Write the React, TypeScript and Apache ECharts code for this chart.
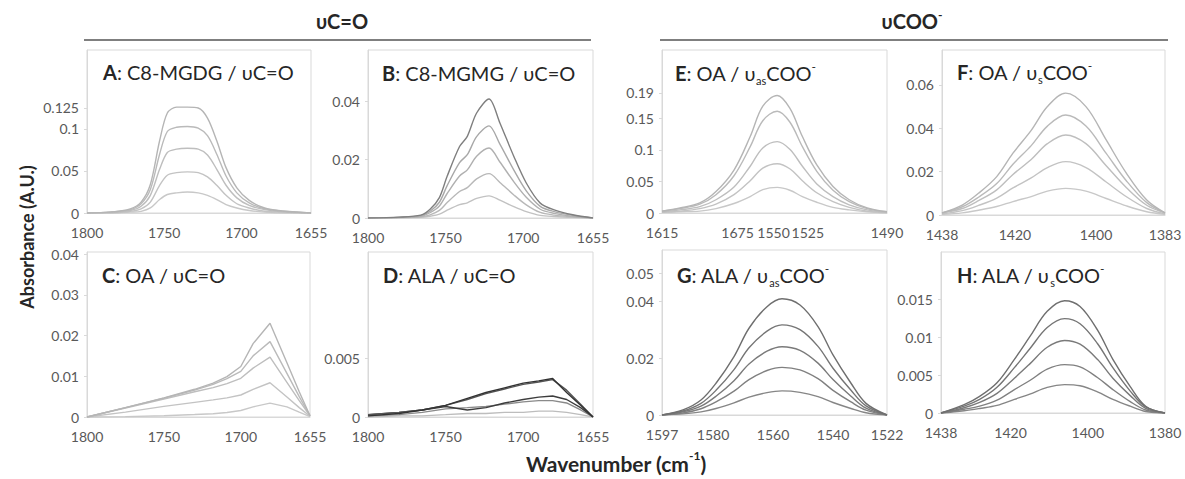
import { useEffect, useRef } from "react";
import * as echarts from "echarts";

// ---------- A: C8-MGDG / vC=O ----------
const aWavenumber = [1800, 1785, 1772, 1765, 1759, 1753, 1748, 1742, 1735, 1728, 1722, 1716, 1710, 1703, 1695, 1685, 1672, 1655];
const aAbsorbance = [
  [0, 0.001, 0.005, 0.013, 0.034, 0.086, 0.119, 0.126, 0.126, 0.125, 0.113, 0.086, 0.054, 0.030, 0.015, 0.006, 0.002, 0],
  [0, 0.001, 0.004, 0.011, 0.028, 0.070, 0.097, 0.102, 0.103, 0.101, 0.092, 0.070, 0.044, 0.024, 0.012, 0.005, 0.002, 0],
  [0, 0.001, 0.003, 0.008, 0.021, 0.052, 0.072, 0.076, 0.077, 0.076, 0.069, 0.052, 0.033, 0.018, 0.009, 0.004, 0.001, 0],
  [0, 0.000, 0.002, 0.005, 0.013, 0.033, 0.045, 0.048, 0.049, 0.048, 0.043, 0.033, 0.021, 0.011, 0.006, 0.002, 0.001, 0],
  [0, 0.000, 0.001, 0.002, 0.006, 0.016, 0.022, 0.024, 0.025, 0.024, 0.021, 0.016, 0.010, 0.006, 0.003, 0.001, 0.000, 0],
];
const aXTicks = [1800, 1750, 1700, 1655];
const aXLabels = ["1800", "1750", "1700", "1655"];
const aYTicks = [0, 0.05, 0.1, 0.125];

// ---------- B: C8-MGMG / vC=O ----------
const bWavenumber = [1800, 1780, 1766, 1760, 1754, 1749, 1741, 1736, 1730, 1722, 1715, 1706, 1698, 1689, 1680, 1668, 1655];
const bAbsorbance = [
  [0, 0.0003, 0.001, 0.003, 0.007, 0.0143, 0.0245, 0.028, 0.036, 0.0408, 0.0326, 0.0211, 0.012, 0.0051, 0.0028, 0.0011, 0],
  [0, 0.0002, 0.0008, 0.0023, 0.0054, 0.0111, 0.019, 0.0217, 0.0279, 0.0316, 0.0253, 0.0164, 0.0093, 0.004, 0.0022, 0.0009, 0],
  [0, 0.0002, 0.0006, 0.0018, 0.0041, 0.0084, 0.0144, 0.0165, 0.0212, 0.024, 0.0192, 0.0124, 0.0071, 0.003, 0.0016, 0.0006, 0],
  [0, 0.0001, 0.0004, 0.0011, 0.0026, 0.0053, 0.0091, 0.0104, 0.0134, 0.0152, 0.0122, 0.0079, 0.0045, 0.0019, 0.001, 0.0004, 0],
  [0, 0.0001, 0.0002, 0.0006, 0.0013, 0.0027, 0.0046, 0.0052, 0.0067, 0.0076, 0.0061, 0.0039, 0.0022, 0.0009, 0.0005, 0.0002, 0],
];
const bXTicks = [1800, 1750, 1700, 1655];
const bXLabels = ["1800", "1750", "1700", "1655"];
const bYTicks = [0, 0.02, 0.04];

// ---------- C: OA / vC=O ----------
const cWavenumber = [1800, 1775, 1750, 1730, 1718, 1709, 1700, 1692, 1681, 1670, 1662, 1655];
const cAbsorbance = [
  [0, 0.0023, 0.0047, 0.0068, 0.0083, 0.0099, 0.0124, 0.018, 0.023, 0.0133, 0.0062, 0.0003],
  [0, 0.0023, 0.0046, 0.0066, 0.008, 0.0094, 0.0112, 0.015, 0.0185, 0.0107, 0.005, 0.0003],
  [0, 0.0022, 0.0044, 0.0062, 0.0072, 0.0082, 0.0095, 0.012, 0.0147, 0.0085, 0.004, 0.0003],
  [0, 0.0012, 0.0026, 0.0036, 0.0042, 0.0047, 0.0054, 0.0068, 0.0084, 0.0049, 0.0023, 0.0002],
  [0, 0.0001, 0.0003, 0.0006, 0.0008, 0.0011, 0.0016, 0.0025, 0.0034, 0.0025, 0.0012, 0.0001],
];
const cXTicks = [1800, 1750, 1700, 1655];
const cXLabels = ["1800", "1750", "1700", "1655"];
const cYTicks = [0, 0.01, 0.02, 0.03, 0.04];

// ---------- D: ALA / vC=O ----------
const dWavenumber = [1800, 1780, 1765, 1750, 1736, 1724, 1712, 1700, 1690, 1681, 1672, 1663, 1655];
const dAbsorbance = [
  [0.0001, 0.0003, 0.0006, 0.001, 0.0016, 0.0021, 0.0025, 0.0029, 0.0031, 0.0033, 0.0021, 0.001, 0],
  [0.0002, 0.0004, 0.0006, 0.001, 0.0015, 0.002, 0.0024, 0.0028, 0.003, 0.0032, 0.0023, 0.0011, 0],
  [0.0002, 0.0004, 0.0006, 0.0009, 0.0006, 0.0008, 0.0012, 0.0015, 0.0017, 0.0018, 0.0015, 0.0008, 0],
  [0.0001, 0.0002, 0.0004, 0.0007, 0.0008, 0.0009, 0.0011, 0.0013, 0.0014, 0.0014, 0.0012, 0.0006, 0],
  [0, 0.0001, 0.0001, 0.0002, 0.0003, 0.0003, 0.0004, 0.0004, 0.0005, 0.0005, 0.0004, 0.0002, 0],
];
const dXTicks = [1800, 1750, 1700, 1655];
const dXLabels = ["1800", "1750", "1700", "1655"];
const dYTicks = [0, 0.005];

// ---------- E: OA / vasCOO- ----------
const eWavenumber = [1615, 1605, 1594, 1585, 1575, 1566, 1559, 1551, 1544, 1537, 1529, 1520, 1511, 1501, 1490];
const eAbsorbance = [
  [0.003, 0.008, 0.016, 0.034, 0.068, 0.121, 0.169, 0.186, 0.166, 0.121, 0.076, 0.042, 0.021, 0.008, 0.002],
  [0.003, 0.007, 0.014, 0.029, 0.059, 0.105, 0.146, 0.161, 0.144, 0.105, 0.066, 0.036, 0.018, 0.007, 0.002],
  [0.002, 0.005, 0.01, 0.021, 0.041, 0.074, 0.103, 0.113, 0.101, 0.074, 0.046, 0.026, 0.013, 0.005, 0.001],
  [0.001, 0.003, 0.007, 0.014, 0.029, 0.051, 0.071, 0.078, 0.07, 0.051, 0.032, 0.018, 0.009, 0.003, 0.001],
  [0.001, 0.002, 0.003, 0.007, 0.015, 0.026, 0.037, 0.0405, 0.036, 0.026, 0.017, 0.009, 0.005, 0.002, 0],
];
const eXTicks = [1615, 1573, 1553, 1534, 1490];
const eXLabels = ["1615", "1675", "1550", "1525", "1490"];
const eYTicks = [0, 0.05, 0.1, 0.15, 0.19];

// ---------- F: OA / vsCOO- ----------
const fWavenumber = [1438, 1433, 1429, 1424.5, 1420.5, 1416, 1412, 1407.5, 1402.5, 1397.5, 1392.5, 1387.5, 1383];
const fAbsorbance = [
  [0.001, 0.0046, 0.01, 0.0177, 0.0285, 0.039, 0.05, 0.0562, 0.05, 0.0346, 0.0192, 0.0069, 0.001],
  [0.001, 0.0038, 0.0082, 0.0145, 0.0234, 0.032, 0.041, 0.0461, 0.041, 0.0284, 0.0157, 0.0057, 0.001],
  [0.001, 0.003, 0.0066, 0.0116, 0.0187, 0.0256, 0.0329, 0.0369, 0.0329, 0.0227, 0.0126, 0.0045, 0.001],
  [0.0005, 0.002, 0.0044, 0.0078, 0.0125, 0.0171, 0.0219, 0.0246, 0.0219, 0.0152, 0.0084, 0.003, 0.0005],
  [0.0003, 0.001, 0.0022, 0.0039, 0.0062, 0.0085, 0.011, 0.0123, 0.011, 0.0076, 0.0042, 0.0015, 0.0003],
];
const fXTicks = [1438, 1420, 1400, 1383];
const fXLabels = ["1438", "1420", "1400", "1383"];
const fYTicks = [0, 0.02, 0.04, 0.06];

// ---------- G: ALA / vasCOO- ----------
const gWavenumber = [1597, 1590, 1584, 1579, 1573, 1568, 1562, 1557, 1551, 1545, 1540, 1534, 1529, 1522];
const gAbsorbance = [
  [0, 0.0018, 0.0053, 0.0112, 0.0206, 0.0306, 0.0382, 0.041, 0.0388, 0.0312, 0.0212, 0.0112, 0.0041, 0],
  [0, 0.0014, 0.0041, 0.0087, 0.016, 0.0237, 0.0296, 0.0318, 0.0301, 0.0242, 0.0165, 0.0087, 0.0032, 0],
  [0, 0.0011, 0.0031, 0.0066, 0.0121, 0.018, 0.0225, 0.0241, 0.0228, 0.0183, 0.0125, 0.0066, 0.0024, 0],
  [0, 0.0007, 0.0022, 0.0046, 0.0084, 0.0125, 0.0157, 0.0168, 0.0159, 0.0128, 0.0087, 0.0046, 0.0017, 0],
  [0, 0.0004, 0.0011, 0.0023, 0.0043, 0.0063, 0.0079, 0.0085, 0.008, 0.0065, 0.0044, 0.0023, 0.0008, 0],
];
const gXTicks = [1597, 1580, 1560, 1540, 1522];
const gXLabels = ["1597", "1580", "1560", "1540", "1522"];
const gYTicks = [0, 0.02, 0.04, 0.05];

// ---------- H: ALA / vsCOO- ----------
const hWavenumber = [1438, 1432, 1428, 1423.5, 1419, 1415, 1410.5, 1406, 1402, 1397.5, 1393.5, 1389, 1385, 1380];
const hAbsorbance = [
  [0, 0.0011, 0.0022, 0.004, 0.0071, 0.0101, 0.01345, 0.01486, 0.0141, 0.011, 0.0071, 0.0035, 0.0009, 0],
  [0, 0.0009, 0.0018, 0.0034, 0.006, 0.0085, 0.0113, 0.01248, 0.0118, 0.0092, 0.006, 0.0029, 0.0008, 0],
  [0, 0.0007, 0.0014, 0.0026, 0.0046, 0.0065, 0.0087, 0.0096, 0.0091, 0.0071, 0.0046, 0.0023, 0.0006, 0],
  [0, 0.0005, 0.0009, 0.0017, 0.0031, 0.0043, 0.0058, 0.0064, 0.0061, 0.0047, 0.0031, 0.0015, 0.0004, 0],
  [0, 0.0003, 0.0006, 0.001, 0.0018, 0.0025, 0.0034, 0.00375, 0.0036, 0.0028, 0.0018, 0.0009, 0.0002, 0],
];
const hXTicks = [1438, 1420, 1400, 1380];
const hXLabels = ["1438", "1420", "1400", "1380"];
const hYTicks = [0, 0.005, 0.01, 0.015];

const FONT = "Lato, 'Open Sans', sans-serif";
const TEXT = "#262626";
const TICK = "#595959";
const FRAME = "#d9d9d9";

const light = ["#b5b5b5", "#bababa", "#bebebe", "#c3c3c3", "#c8c8c8"];
const mid = ["#6f6f6f", "#757575", "#7a7a7a", "#808080", "#868686"];
const bCols = ["#7f7f7f", "#a8a8a8", "#b0b0b0", "#b8b8b8", "#c2c2c2"];
const dCols = ["#333333", "#555555", "#3d3d3d", "#8a8a8a", "#bdbdbd"];

const panels = [
  { title: "{b|A}{n|: C8-MGDG / υC=O}", tx: 103, ty: 72, grid: [87, 50, 224, 163], xMin: 1655, xMax: 1800, yMax: 0.194, xs: aWavenumber, ys: aAbsorbance, xTicks: aXTicks, xLabels: aXLabels, yTicks: aYTicks, colors: light, smooth: 0.3 },
  { title: "{b|B}{n|: C8-MGMG / υC=O}", tx: 382, ty: 73, grid: [368, 50, 225, 168], xMin: 1655, xMax: 1800, yMax: 0.0576, xs: bWavenumber, ys: bAbsorbance, xTicks: bXTicks, xLabels: bXLabels, yTicks: bYTicks, colors: bCols, smooth: 0.3 },
  { title: "{b|E}{n|: OA / υ}{sub|as}{n|COO}{sup|-}", tx: 675, ty: 73, grid: [662, 50, 225, 163], xMin: 1490, xMax: 1615, yMax: 0.258, xs: eWavenumber, ys: eAbsorbance, xTicks: eXTicks, xLabels: eXLabels, yTicks: eYTicks, colors: light, smooth: 0.35 },
  { title: "{b|F}{n|: OA / υ}{sub|s}{n|COO}{sup|-}", tx: 957, ty: 72, grid: [942, 50, 223, 165], xMin: 1383, xMax: 1438, yMax: 0.0761, xs: fWavenumber, ys: fAbsorbance, xTicks: fXTicks, xLabels: fXLabels, yTicks: fYTicks, colors: light, smooth: 0.35 },
  { title: "{b|C}{n|: OA / υC=O}", tx: 102, ty: 275, grid: [87, 252, 223, 165], xMin: 1655, xMax: 1800, yMax: 0.0405, xs: cWavenumber, ys: cAbsorbance, xTicks: cXTicks, xLabels: cXLabels, yTicks: cYTicks, colors: light, smooth: false },
  { title: "{b|D}{n|: ALA / υC=O}", tx: 383, ty: 275, grid: [368, 252, 225, 165], xMin: 1655, xMax: 1800, yMax: 0.01414, xs: dWavenumber, ys: dAbsorbance, xTicks: dXTicks, xLabels: dXLabels, yTicks: dYTicks, colors: dCols, smooth: false },
  { title: "{b|G}{n|: ALA / υ}{sub|as}{n|COO}{sup|-}", tx: 677, ty: 275, grid: [662, 250, 225, 165], xMin: 1522, xMax: 1597, yMax: 0.0582, xs: gWavenumber, ys: gAbsorbance, xTicks: gXTicks, xLabels: gXLabels, yTicks: gYTicks, colors: mid, smooth: 0.35 },
  { title: "{b|H}{n|: ALA / υ}{sub|s}{n|COO}{sup|-}", tx: 957, ty: 275, grid: [941, 252, 224, 161], xMin: 1380, xMax: 1438, yMax: 0.0213, xs: hWavenumber, ys: hAbsorbance, xTicks: hXTicks, xLabels: hXLabels, yTicks: hYTicks, colors: mid, smooth: 0.35 },
];

const titleRich = {
  b: { fontFamily: FONT, fontSize: 20, fontWeight: "bold", fill: TEXT, color: TEXT, lineHeight: 26 },
  n: { fontFamily: FONT, fontSize: 20, fill: TEXT, color: TEXT, lineHeight: 26 },
  sub: { fontFamily: FONT, fontSize: 11, fill: TEXT, color: TEXT, lineHeight: 12, verticalAlign: "bottom" },
  sup: { fontFamily: FONT, fontSize: 12, fill: TEXT, color: TEXT, lineHeight: 12, verticalAlign: "top" },
  bb: { fontFamily: FONT, fontSize: 20, fontWeight: "bold", fill: TEXT, color: TEXT, lineHeight: 26 },
  xb: { fontFamily: FONT, fontSize: 21, fontWeight: "bold", fill: TEXT, color: TEXT, lineHeight: 28 },
  bsup: { fontFamily: FONT, fontSize: 12, fontWeight: "bold", fill: TEXT, color: TEXT, lineHeight: 12, verticalAlign: "top" },
};

export default function App() {
  const ref = useRef<HTMLDivElement>(null);
  useEffect(() => {
    if (!ref.current) return;
    const chart = echarts.init(ref.current, undefined, { renderer: "svg" });

    const grids = panels.map((p) => ({
      left: p.grid[0],
      top: p.grid[1],
      width: p.grid[2],
      height: p.grid[3],
      show: true,
      borderColor: FRAME,
      borderWidth: 1,
      backgroundColor: "transparent",
      containLabel: false,
    }));

    const xAxes = panels.map((p, i) => ({
      gridIndex: i,
      type: "value",
      min: p.xMin,
      max: p.xMax,
      inverse: true,
      axisLine: { show: true, lineStyle: { color: FRAME } },
      axisTick: { show: false },
      splitLine: { show: false },
      axisLabel: {
        customValues: p.xTicks,
        formatter: (v: number) => {
          const k = p.xTicks.indexOf(v);
          return k >= 0 ? p.xLabels[k] : "";
        },
        color: TICK,
        fontSize: 14,
        fontFamily: FONT,
        margin: 12,
      },
    }));

    const yAxes = panels.map((p, i) => ({
      gridIndex: i,
      type: "value",
      min: 0,
      max: p.yMax,
      axisLine: { show: true, lineStyle: { color: FRAME } },
      axisTick: { show: true, length: 3, customValues: p.yTicks, lineStyle: { color: FRAME } },
      splitLine: { show: false },
      axisLabel: {
        customValues: p.yTicks,
        formatter: (v: number) => String(v),
        color: TICK,
        fontSize: 14,
        fontFamily: FONT,
        margin: 8,
      },
    }));

    const series: any[] = [];
    panels.forEach((p, i) => {
      p.ys.forEach((row, j) => {
        series.push({
          type: "line",
          name: `${"ABEFCDGH"[i]}${j + 1}`,
          xAxisIndex: i,
          yAxisIndex: i,
          data: p.xs.map((x, k) => [x, row[k]]),
          showSymbol: false,
          smooth: p.smooth,
          lineStyle: { color: p.colors[j], width: 1.4 },
          z: 10 - j,
        });
      });
    });

    const graphic: any[] = [
      { type: "line", shape: { x1: 84, y1: 40, x2: 591, y2: 40 }, style: { stroke: "#7f7f7f", lineWidth: 2 } },
      { type: "line", shape: { x1: 660, y1: 40, x2: 1168, y2: 40 }, style: { stroke: "#7f7f7f", lineWidth: 2 } },
      { type: "text", x: 342, y: 21, style: { text: "{bb|υC=O}", rich: titleRich, align: "center", verticalAlign: "middle" } },
      { type: "text", x: 912, y: 21, style: { text: "{bb|υCOO}{bsup|-}", rich: titleRich, align: "center", verticalAlign: "middle" } },
      {
        type: "text",
        x: 27,
        y: 237,
        rotation: Math.PI / 2,
        style: { text: "Absorbance (A.U.)", fontFamily: FONT, fontSize: 18, fontWeight: "bold", fill: TEXT, align: "center", verticalAlign: "middle" },
      },
      {
        type: "text",
        x: 616,
        y: 463,
        style: { text: "{xb|Wavenumber (cm}{bsup|-1}{xb|)}", rich: titleRich, align: "center", verticalAlign: "middle" },
      },
      ...panels.map((p) => ({
        type: "text",
        x: p.tx,
        y: p.ty,
        z: 100,
        style: { text: p.title, rich: titleRich, align: "left", verticalAlign: "middle" },
      })),
    ];

    chart.setOption({
      animation: false,
      backgroundColor: "#ffffff",
      grid: grids,
      xAxis: xAxes,
      yAxis: yAxes,
      series,
      graphic,
    });
    return () => chart.dispose();
  }, []);

  return <div ref={ref} style={{ position: "fixed", left: 0, top: 0, width: 1185, height: 479 }} />;
}
